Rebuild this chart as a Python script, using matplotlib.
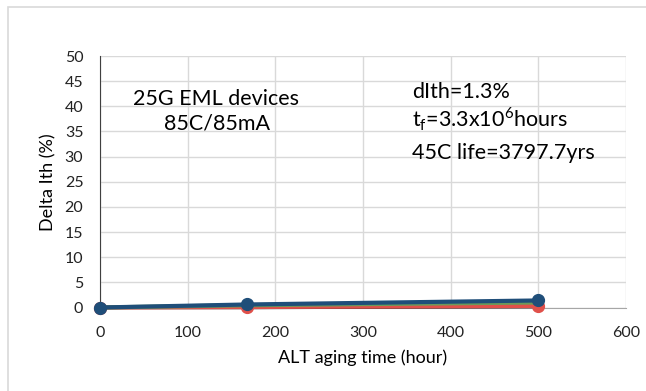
import matplotlib
matplotlib.use("Agg")
import matplotlib.pyplot as plt
from matplotlib.patches import Rectangle

# aging time points (hours)
hours = [0, 168, 500]

# delta Ith (%) per device
black_dev = [0, 0.0, 0.2]
red_dev = [0, 0.1, 0.3]
green_dev = [0, 0.45, 1.0]
blue_dev = [0, 0.6, 1.4]

plt.rcParams["font.family"] = ["Lato", "DejaVu Sans"]

fig = plt.figure(figsize=(6.46, 3.91), dpi=100)
ax = fig.add_axes([100 / 646, 83.5 / 391, 526 / 646, 251.5 / 391])

# chart-area border (cut off on right and bottom like the screenshot)
fig.patches.append(Rectangle((8 / 646, -0.1), 1.2, (391 - 7) / 391 + 0.1,
                             transform=fig.transFigure, fill=False,
                             edgecolor="#d9d9d9", linewidth=1.2))

ax.plot(hours, black_dev, color="#222222", lw=2.5, zorder=3, clip_on=False)
ax.plot(hours, red_dev, color="#e0504a", lw=3, marker="o", ms=8.5, zorder=3,
        clip_on=False)
ax.plot(hours, green_dev, color="#6a9a5a", lw=3, zorder=3, clip_on=False)
ax.plot(hours, blue_dev, color="#1f4e79", lw=3, marker="o", ms=8.5, zorder=4,
        clip_on=False)

ax.set_xlim(0, 600)
ax.set_ylim(0, 50)
ax.set_xticks(range(0, 601, 100))
ax.set_yticks(range(0, 51, 5))
ax.grid(True, color="#d9d9d9", lw=1)
ax.set_axisbelow(True)
ax.tick_params(length=0, labelsize=11.5, colors="#222222")
ax.tick_params(axis="y", pad=12)
ax.tick_params(axis="x", pad=13)

for s in ["top", "right"]:
    ax.spines[s].set_visible(False)
ax.spines["left"].set_color("#404040")
ax.spines["bottom"].set_color("#a6a6a6")

ax.set_xlabel("ALT aging time (hour)", fontsize=13, labelpad=7)
ax.set_ylabel("Delta Ith (%)", fontsize=13, labelpad=6)

fs = 15.5
ax.text(37.6, 40.2, "25G EML devices", fontsize=fs, ha="left", va="baseline")
ax.text(133.5, 35.3, "85C/85mA", fontsize=fs, ha="center", va="baseline")
ax.text(356, 41.6, "dIth=1.3%", fontsize=fs, ha="left", va="baseline")
ax.text(356, 35.9, r"t$_\mathregular{f}$=3.3x10$^\mathregular{6}$hours", fontsize=fs,
        ha="left", va="baseline")
ax.text(356, 29.6, "45C life=3797.7yrs", fontsize=fs, ha="left", va="baseline")

fig.savefig("out.png", dpi=100)
